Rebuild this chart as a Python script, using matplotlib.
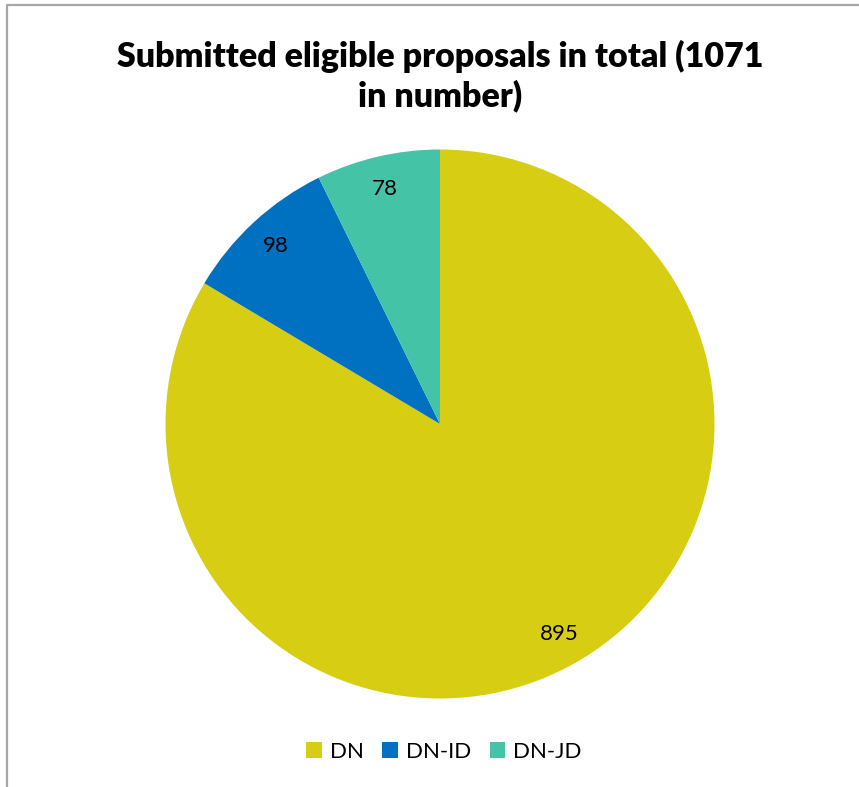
import matplotlib.pyplot as plt
from matplotlib.lines import Line2D
from matplotlib.patches import Patch

categories = ['DN', 'DN-ID', 'DN-JD']
values = [895, 98, 78]
colors = ['#D7CE14', '#0070C0', '#45C3A6']
title = 'Submitted eligible proposals in total (1071\nin number)'

plt.rcParams['font.family'] = ['Lato', 'DejaVu Sans']

W, H = 859, 787
fig = plt.figure(figsize=(W / 100, H / 100), dpi=100)

# cadre gris (coin haut-gauche visible seulement)
fig.add_artist(Line2D([7 / W, 7 / W, 1], [0, 1 - 5 / H, 1 - 5 / H],
                      transform=fig.transFigure, color='#A6A6A6', lw=1.6))

# camembert : centre (440, 424), rayon ~275 px
cx, cy, r = 440, 424, 275
ax = fig.add_axes([(cx - r) / W, (H - cy - r) / H, 2 * r / W, 2 * r / H])
wedges, texts, autotexts = ax.pie(
    values, colors=colors, startangle=90, counterclock=False,
    radius=274.5 / 275, autopct=lambda p: f'{round(p * sum(values) / 100):d}',
    pctdistance=0.88, wedgeprops=dict(linewidth=0),
    textprops=dict(fontsize=16, color='black'))
ax.set_xlim(-1, 1)
ax.set_ylim(-1, 1)
ax.set_aspect('equal')
ax.axis('off')

fig.text(440 / W, 1 - 76 / H, title, ha='center', va='center',
         fontsize=24.5, fontweight='heavy', linespacing=1.27)

handles = [Patch(facecolor=c, edgecolor='none') for c in colors]
fig.legend(handles, categories, loc='center', bbox_to_anchor=(444 / W, 1 - 752 / H),
           ncol=3, frameon=False, fontsize=16, handlelength=0.7, handleheight=0.7,
           handletextpad=0.35, columnspacing=0.85)

fig.savefig('out.png', dpi=100)
